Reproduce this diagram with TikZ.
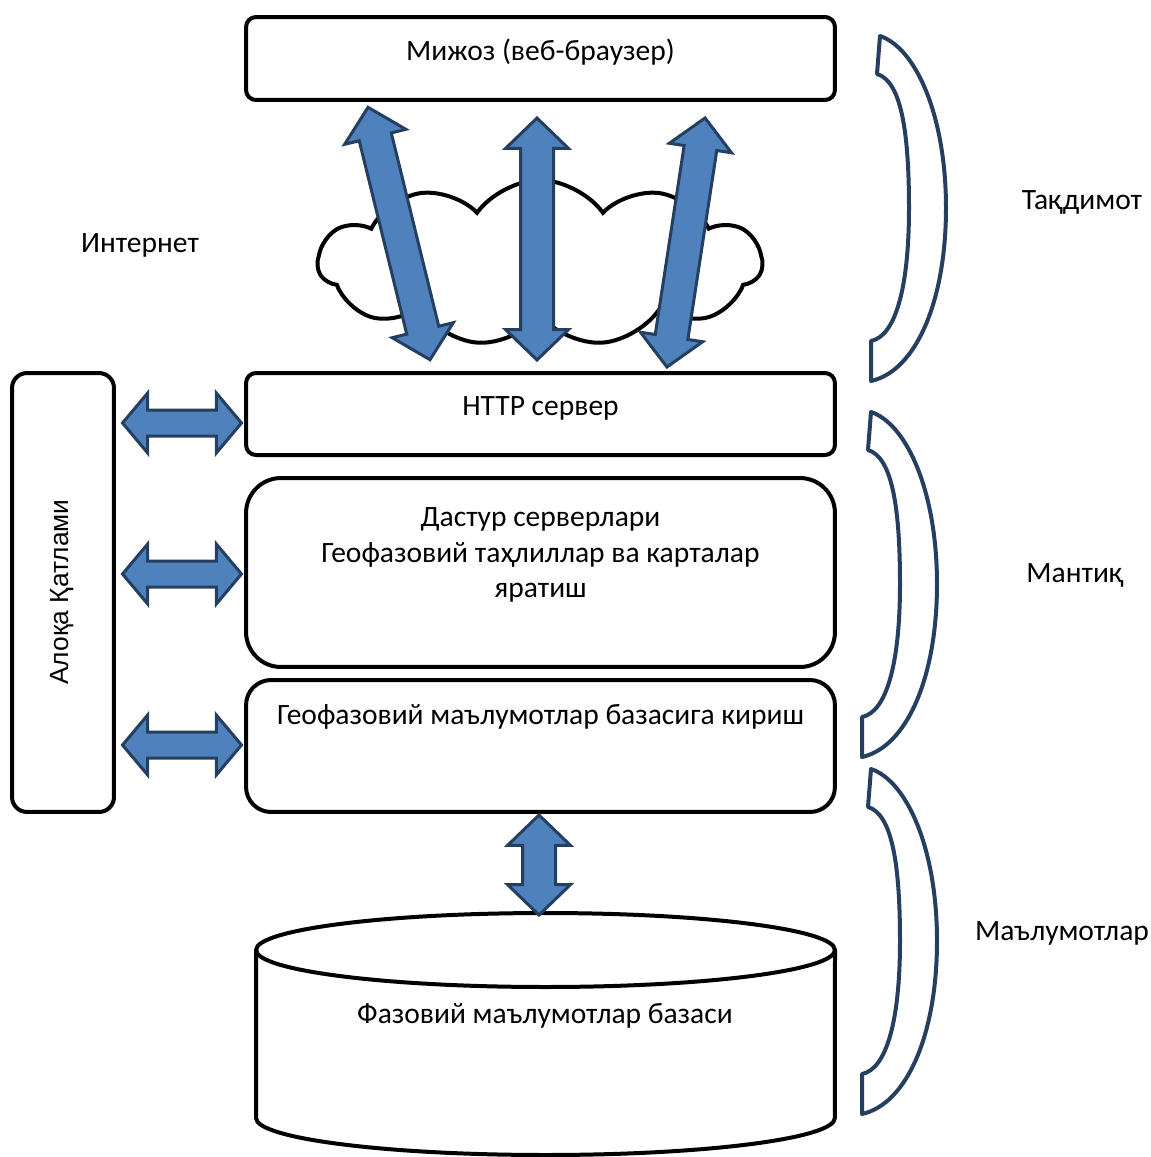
\documentclass[tikz,border=0pt]{standalone}
\usepackage{fontspec}
\setmainfont{Carlito}
\newfontfamily\arialfont{Liberation Sans}
\usetikzlibrary{shapes.symbols,shapes.arrows,positioning}

\definecolor{arrowFill}{HTML}{4F81BD}
\definecolor{arrowLine}{HTML}{243F60}

% crescent-shaped bracket on the right, #1/#2 = top left corner
\newcommand{\crescent}[2]{%
  \draw[bracket, shift={(#1,#2)}] (9,0) .. controls (45,12) and (75,80) .. (75,172)
    .. controls (75,265) and (45,335) .. (0,345) -- (0,305)
    .. controls (25,300) and (38,250) .. (38,172)
    .. controls (38,95) and (30,45) .. (6,38) -- cycle;}

\begin{document}
\begin{tikzpicture}[
  x=0.02cm,
  y=-0.02cm,
  layer/.style={draw=black, line width=0.08cm, rounded corners=0.2cm, minimum width=11.78cm, inner sep=0pt},
  caption/.style={align=center, inner sep=0pt, font=\fontsize{16.8}{20.4}\selectfont},
  biarrow/.style={double arrow, fill=arrowFill, draw=arrowLine, line width=0.06cm, inner sep=0.3cm, double arrow head extend=0.3cm, double arrow tip angle=92},
  sidearrow/.style={biarrow, inner sep=0.23cm, double arrow head extend=0.34cm, double arrow tip angle=100, minimum height=2.38cm},
  bracket/.style={draw=arrowLine, fill=white, line width=0.08cm, line join=round},
]
\useasboundingbox (0,0) rectangle (1151,1157);

% Layers
\node[layer, minimum height=1.66cm] (client) at (540.5,58.5) {};
\node[caption] (clientText) at (540.5,52) {Мижоз (веб-браузер)};
\node[layer, minimum height=1.64cm] (http) at (540.5,414) {};
\node[caption] (httpText) at (540.5,408) {HTTP сервер};
\node[layer, rounded corners=0.7cm, minimum height=3.78cm] (app) at (540.5,572.5) {};
\node[caption] (appText) at (540.5,555) {Дастур серверлари\\Геофазовий таҳлиллар ва карталар\\яратиш};
\node[layer, rounded corners=0.5cm, minimum height=2.64cm] (access) at (540.5,746) {};
\node[caption] (accessText) at (540.5,717) {Геофазовий маълумотлар базасига кириш};

\node[layer, rounded corners=0.3cm, minimum width=2.04cm, minimum height=8.78cm] (comm) at (63,592.5) {};
\node[rotate=90, inner sep=0pt, font=\arialfont\fontsize{15}{17}\selectfont] (commText) at (62,592) {Алоқа Қатлами};

% Database
\draw[line width=0.08cm, fill=white] (256,950) -- (256,1118) arc[start angle=180, end angle=360, x radius=5.79cm, y radius=0.74cm] -- (835,950);
\draw[line width=0.08cm] (545.5,950) ellipse[x radius=5.79cm, y radius=0.74cm];
\coordinate (dbtop) at (545.5,913);
\node[caption] (db) at (545,1016) {Фазовий маълумотлар базаси};

% Internet
\node[cloud, draw, line width=0.08cm, cloud puffs=11, cloud puff arc=110, aspect=2.7, inner sep=0pt, minimum width=8.88cm, minimum height=3.32cm] (net) at (540,263) {};
\node[caption] (netText) at (140,245) {Интернет};

% Block arrows
\node[biarrow, minimum height=5.2cm, rotate=103.8] (a1) at (399,233.5) {};
\node[biarrow, minimum height=4.84cm, rotate=90] (a2) at (537,239) {};
\node[biarrow, minimum height=5.04cm, rotate=81.3] (a3) at (686,242.5) {};
\node[biarrow, minimum height=2cm, rotate=90] (a4) at (539,865) {};

\node[sidearrow] (s1) at (182,423) {};
\node[sidearrow] (s2) at (182,574) {};
\node[sidearrow] (s3) at (182,745) {};

% Tiers
\crescent{871}{36}
\crescent{862}{412}
\crescent{862}{769}
\node[caption] (present) at (1082,202) {Тақдимот};
\node[caption] (logic) at (1075,575) {Мантиқ};
\node[caption] (data) at (1062,933) {Маълумотлар};

\end{tikzpicture}
\end{document}
